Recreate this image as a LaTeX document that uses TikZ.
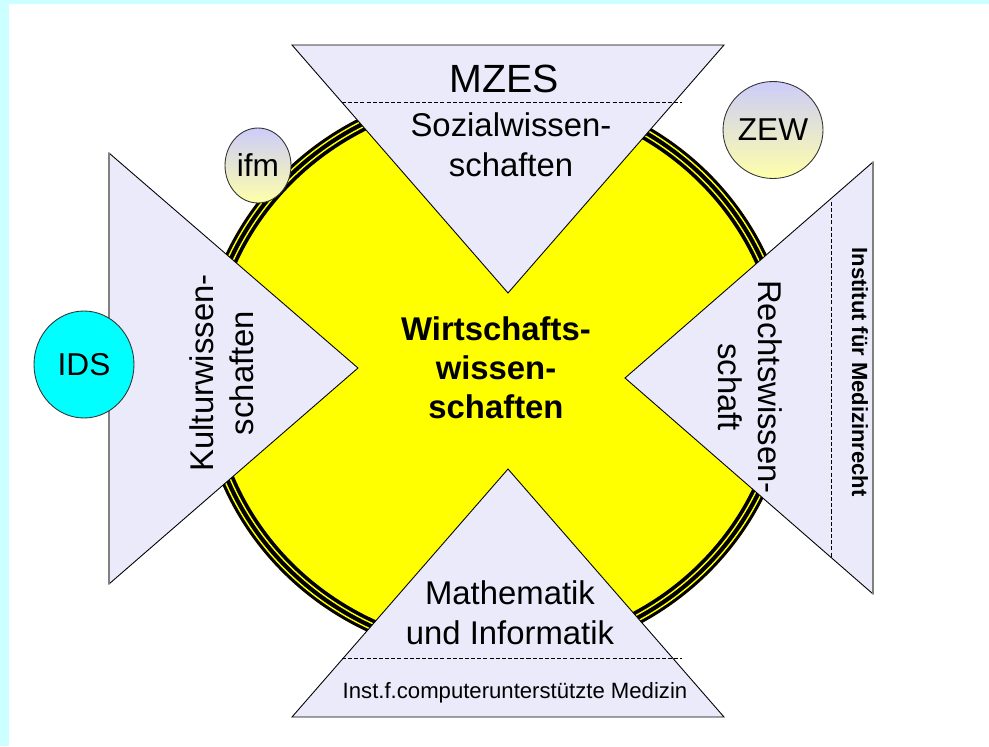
\documentclass[tikz,border=0pt]{standalone}
\usepackage{fontspec}
\setmainfont{Liberation Sans}
\usetikzlibrary{shapes.geometric}
\usepackage{xcolor}
\definecolor{framecyan}{RGB}{204,255,255}
\definecolor{facfill}{RGB}{234,234,250}
\definecolor{wiwiyellow}{RGB}{255,255,0}
\definecolor{instblue}{RGB}{204,204,250}
\definecolor{instyellow}{RGB}{255,255,170}
\definecolor{idscyan}{RGB}{0,255,255}

\begin{document}
\begin{tikzpicture}[x=0.02cm, y=-0.02cm]

% TikZ styles
\tikzset{
  faculty/.style={draw=black, line width=0.5pt, fill=facfill},
  backedge/.style={draw=gray, line width=1.1pt},
  divider/.style={dash pattern=on 2.3pt off 1.2pt, line width=0.5pt},
  factext/.style={inner sep=0pt, align=center, font=\fontsize{18.7}{22.7}\selectfont},
  insttext/.style={inner sep=0pt, font=\fontsize{12.6}{15}\selectfont},
  institute/.style={ellipse, draw=black!80, line width=0.5pt, top color=instblue, bottom color=instyellow, inner sep=0pt, font=\fontsize{18}{21}\selectfont}
}

%==========================
% Rahmen
%==========================
\fill[framecyan] (0,0) rectangle (989,746);
\fill[white] (9,4) rectangle (989,746);
\useasboundingbox (0,0) rectangle (989,746);

%==========================
% Kreis Wirtschaftswissenschaften
%==========================
\fill[wiwiyellow] (496,373) ellipse [x radius=297, y radius=287];
\draw[black, line width=8pt] (496,373) ellipse [x radius=290, y radius=280];
\draw[wiwiyellow, line width=0.8pt] (496,373) ellipse [x radius=293.2, y radius=283.2];
\draw[wiwiyellow, line width=0.8pt] (496,373) ellipse [x radius=287.4, y radius=277.4];

%==========================
% Fakultaeten (Dreiecke)
%==========================
\draw[faculty] (292,45) -- (724,45) -- (508,293) -- cycle;
\draw[faculty] (292,717) -- (724,717) -- (508,469) -- cycle;
\draw[faculty] (109,153) -- (109,584) -- (358,368) -- cycle;
\draw[faculty] (873,162) -- (873,594) -- (625,378) -- cycle;
\draw[backedge] (109,153) -- (109,584);
\draw[backedge] (873,162) -- (873,594);

% Trennlinien
\draw[divider] (342,102) -- (682,102);
\draw[divider] (342,658) -- (682,658);
\draw[divider] (831,202) -- (831,558);

% Texte
\node[factext, font=\fontsize{22.4}{26}\selectfont, anchor=base] (mzes) at (504,93) {MZES};
\node[factext] (sozial) at (511,145) {Sozialwissen-\\schaften};
\node[factext, rotate=90] (kultur) at (221.5,373) {Kulturwissen-\\schaften};
\node[factext, rotate=-90] (recht) at (750,387) {Rechtswissen-\\schaft};
\node[factext] (mathinf) at (510,612.5) {Mathematik\\und Informatik};
\node[factext, font=\fontsize{18.7}{22.1}\selectfont\bfseries] (wiwi) at (496,367.5) {Wirtschafts-\\wissen-\\schaften};

\node[insttext, anchor=base] (icm) at (515,698) {Inst.f.computerunterstützte Medizin};
\node[insttext, font=\fontsize{12.5}{15}\selectfont\bfseries, anchor=base, rotate=-90] (imr) at (852,372) {Institut für Medizinrecht};

%==========================
% An-Institute
%==========================
\node[institute, minimum width=1.32cm, minimum height=1.5cm] (ifm) at (258,165.5) {ifm};
\node[institute, minimum width=2cm, minimum height=1.94cm] (zew) at (773,130) {ZEW};
\node[ellipse, draw=black!80, line width=0.5pt, fill=idscyan, inner sep=0pt, minimum width=2cm, minimum height=2.14cm, font=\fontsize{18}{21}\selectfont] (ids) at (84,364.5) {IDS};

\end{tikzpicture}
\end{document}
